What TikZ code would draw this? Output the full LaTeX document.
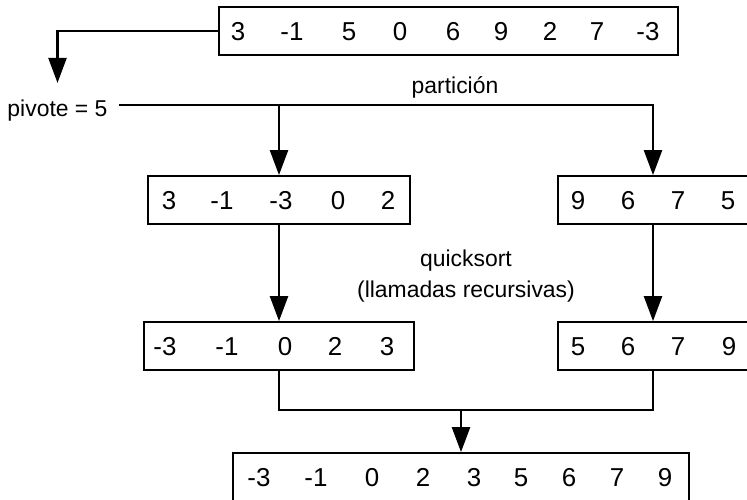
\documentclass[tikz,border=0pt]{standalone}
\usepackage{fontspec}
\setmainfont{Liberation Sans}
\usetikzlibrary{arrows.meta}

\begin{document}
\begin{tikzpicture}[x=1bp, y=-1bp,
    box/.style={draw, line width=1.8bp, minimum height=48bp, inner sep=0pt},
    num/.style={anchor=base, inner sep=0pt, font=\fontsize{26}{30}\selectfont},
    lbl/.style={font=\fontsize{23}{31}\selectfont},
    conn/.style={line width=2.4bp},
    arr/.style={conn, -{Triangle[width=18bp, length=25bp]}}]

    \useasboundingbox (0,0) rectangle (747,500);
    \clip (0,0) rectangle (747,500);

    % ---- Parameters ----
    \def\yA{31}     % original array
    \def\yB{200}    % after partition
    \def\yC{346}    % after recursive calls
    \def\yD{477}    % merged result
    \def\dy{9.3}    % digit baseline below box centre

    % ---- Boxes ----
    \node[box, minimum width=459bp] (orig) at (448.5,\yA) {};
    \node[box, minimum width=262bp] (menores) at (279,\yB) {};
    \node[box, minimum width=190bp] (mayores) at (653,\yB) {};
    \node[box, minimum width=270bp] (menoresord) at (279,\yC) {};
    \node[box, minimum width=190bp] (mayoresord) at (653,\yC) {};
    \node[box, minimum width=456bp] (final) at (461,\yD) {};

    % ---- Values ----
    \foreach \v/\x [count=\i] in {3/238, -1/292, 5/349, 0/400, 6/453, 9/501, 2/550, 7/597, -3/648}
        \node[num] (orig-\i) at (\x,\yA+\dy) {\v};
    \foreach \v/\x [count=\i] in {3/169, -1/222, -3/281, 0/338, 2/388}
        \node[num] (menores-\i) at (\x,\yB+\dy) {\v};
    \foreach \v/\x [count=\i] in {9/578, 6/628, 7/678, 5/728}
        \node[num] (mayores-\i) at (\x,\yB+\dy) {\v};
    \foreach \v/\x [count=\i] in {-3/165, -1/227, 0/285, 2/335, 3/387}
        \node[num] (menoresord-\i) at (\x,\yC+\dy) {\v};
    \foreach \v/\x [count=\i] in {5/578, 6/628, 7/678, 9/729}
        \node[num] (mayoresord-\i) at (\x,\yC+\dy) {\v};
    \foreach \v/\x [count=\i] in {-3/259, -1/316, 0/372, 2/423, 3/474, 5/521, 6/569, 7/617, 9/665}
        \node[num] (final-\i) at (\x,\yD+\dy) {\v};

    % ---- Labels ----
    \node[lbl, anchor=base, inner xsep=11bp, inner ysep=17bp] (piv) at (57.5,116.7) {pivote = 5};
    \node[lbl, anchor=base] (part) at (455,94) {partición};
    \node[lbl, align=center] (qs) at (466,276.5) {quicksort\\(llamadas recursivas)};

    % ---- Pivot choice ----
    \draw[arr] (orig.west) -| (piv.north);

    % ---- Partition ----
    \coordinate (split) at ([yshift=11.7bp]piv.base east);
    \draw[arr] (split) -| (mayores.north);
    \draw[arr] (split -| menores.north) -- (menores.north);

    % ---- Recursive calls ----
    \draw[arr] (menores.south) -- (menoresord.north);
    \draw[arr] (mayores.south) -- (mayoresord.north);

    % ---- Concatenation ----
    \path (final.north) ++(0,-42) coordinate (join);
    \draw[conn] (menoresord.south) |- (join) -| (mayoresord.south);
    \draw[arr] (join) -- (final.north);

\end{tikzpicture}
\end{document}
